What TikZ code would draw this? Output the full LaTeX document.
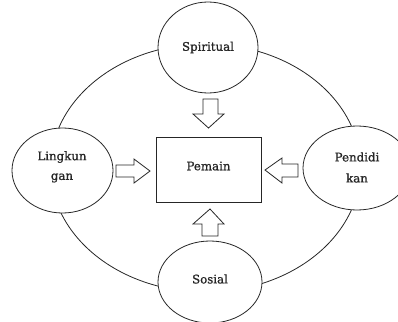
\documentclass[tikz,border=0pt]{standalone}
\usepackage{fontspec}
\setmainfont[FakeBold=1]{DejaVu Serif}
\usetikzlibrary{shapes.geometric}
\begin{document}
\begin{tikzpicture}[x=1pt,y=-1pt,
  lw/.style={line width=0.8pt,draw=black!85},
  oval/.style={ellipse,draw,lw,fill=white,inner sep=0pt},
  lbl/.style={font=\fontsize{11.8}{14}\selectfont,align=center,text=black!85},
  blockarrow/.style={lw,fill=white,line join=miter}]
\useasboundingbox (0,0) rectangle (398,321);
% large ring
\draw[lw] (205.5,168) ellipse [x radius=155,y radius=124];
% small ellipses
\node[oval,minimum width=100pt,minimum height=91pt] (sp) at (208,47.5) {};
\node[oval,minimum width=104pt,minimum height=82pt] (so) at (210,282) {};
\node[oval,minimum width=101pt,minimum height=85pt] (li) at (62.5,170.5) {};
\node[oval,minimum width=108pt,minimum height=84pt] (pe) at (357,168) {};
% centre box
\node[draw,lw,minimum width=105pt,minimum height=65pt] (pm) at (208.5,169.5) {};
% labels
\node[lbl] (tsp) at (sp.center) {Spiritual};
\node[lbl] (tso) at (210,279) {Sosial};
\node[lbl] (tli1) at (62,157) {Lingkun};
\node[lbl] (tli2) at (62,178) {gan};
\node[lbl] (tpe1) at (357,157) {Pendidi};
\node[lbl] (tpe2) at (357,178) {kan};
\node[lbl] (tpm) at (208.5,166) {Pemain};
% block arrows
\draw[blockarrow] (203,99) -- (218,99) -- (218,114) -- (224,114) -- (208.5,128) -- (193,114) -- (203,114) -- cycle;
\draw[blockarrow] (202,236) -- (218,236) -- (218,224) -- (224,224) -- (210,209) -- (193,224) -- (202,224) -- cycle;
\draw[blockarrow] (116,165) -- (134,165) -- (134,159) -- (150,171) -- (134,183) -- (134,177) -- (116,177) -- cycle;
\draw[blockarrow] (298,164) -- (282,164) -- (282,158) -- (265,170) -- (282,183) -- (282,177) -- (298,177) -- cycle;
\end{tikzpicture}
\end{document}
